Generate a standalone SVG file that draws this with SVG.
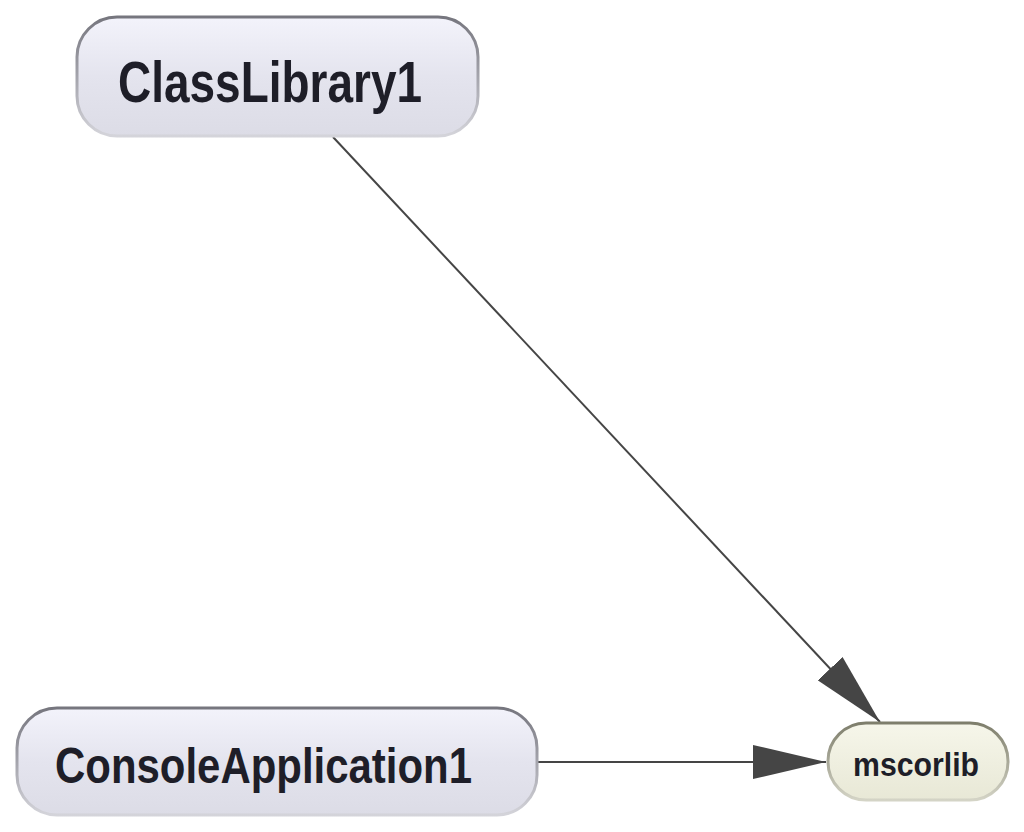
<svg xmlns="http://www.w3.org/2000/svg" width="1024" height="832" viewBox="0 0 1024 832">
<defs>
<linearGradient id="fillBlue" x1="0" y1="0" x2="0" y2="1">
<stop offset="0" stop-color="#f3f3fb"/>
<stop offset="0.5" stop-color="#e4e4ee"/>
<stop offset="1" stop-color="#dcdce6"/>
</linearGradient>
<linearGradient id="strokeBlue" x1="0" y1="0" x2="0" y2="1">
<stop offset="0" stop-color="#76767e"/>
<stop offset="0.5" stop-color="#a4a4ac"/>
<stop offset="1" stop-color="#d4d4da"/>
</linearGradient>
<linearGradient id="fillCream" x1="0" y1="0" x2="0" y2="1">
<stop offset="0" stop-color="#f6f6ea"/>
<stop offset="1" stop-color="#e8e8d6"/>
</linearGradient>
<linearGradient id="strokeCream" x1="0" y1="0" x2="0" y2="1">
<stop offset="0" stop-color="#7e7e6c"/>
<stop offset="0.5" stop-color="#a8a898"/>
<stop offset="1" stop-color="#d4d4c6"/>
</linearGradient>
<marker id="arrow" viewBox="0 0 73 34" refX="73" refY="17" markerWidth="73" markerHeight="34" markerUnits="userSpaceOnUse" orient="auto">
<path d="M0,0 L73,17 L0,34 Z" fill="#454545"/>
</marker>
</defs>
<style>
.lbl{font-family:"Liberation Sans",Arial,sans-serif;font-weight:bold;fill:#1e1e28;}
.edge{stroke:#454545;stroke-width:2;fill:none;}
</style>
<rect width="1024" height="832" fill="#ffffff"/>
<g id="connectors">
<line class="edge" x1="333" y1="137" x2="880" y2="722" marker-end="url(#arrow)"/>
<line class="edge" x1="538" y1="762" x2="826" y2="762" marker-end="url(#arrow)"/>
</g>
<g id="node-classlibrary1">
<rect x="77" y="17" width="401" height="119" rx="40" ry="40" fill="url(#fillBlue)" stroke="url(#strokeBlue)" stroke-width="3"/>
<text class="lbl" x="118" y="102" font-size="58" textLength="304" lengthAdjust="spacingAndGlyphs">ClassLibrary1</text>
</g>
<g id="node-consoleapplication1">
<rect x="17" y="708" width="520" height="107" rx="40" ry="40" fill="url(#fillBlue)" stroke="url(#strokeBlue)" stroke-width="3"/>
<text class="lbl" x="55" y="783" font-size="50" textLength="417" lengthAdjust="spacingAndGlyphs">ConsoleApplication1</text>
</g>
<g id="node-mscorlib">
<rect x="828" y="723" width="180" height="77" rx="38" ry="38" fill="url(#fillCream)" stroke="url(#strokeCream)" stroke-width="3"/>
<text class="lbl" x="853" y="776" font-size="33" textLength="126" lengthAdjust="spacingAndGlyphs">mscorlib</text>
</g>
</svg>
